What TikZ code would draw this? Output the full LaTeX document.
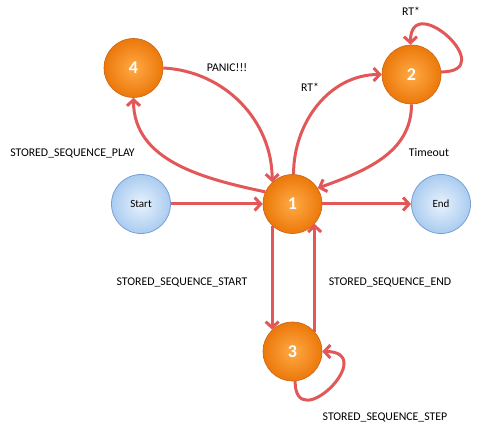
\documentclass[tikz,border=0pt]{standalone}
\usepackage{fontspec}
\setmainfont{Carlito}
\usetikzlibrary{arrows.meta,shadows}
\definecolor{edgered}{RGB}{226,88,88}
\definecolor{orlight}{RGB}{255,170,70}
\definecolor{ordark}{RGB}{236,120,10}
\definecolor{orrim}{RGB}{200,100,20}
\definecolor{blin}{RGB}{232,242,252}
\definecolor{blout}{RGB}{170,204,240}
\definecolor{blrim}{RGB}{120,160,212}
\tikzset{
  orstate/.style={circle,minimum size=59pt,inner sep=0pt,draw=orrim,line width=0.6pt,
    inner color=orlight,outer color=ordark,text=white,font=\fontsize{18}{18}\selectfont\bfseries},
  blstate/.style={circle,minimum size=59pt,inner sep=0pt,draw=blrim,line width=0.8pt,
    inner color=blin,outer color=blout,text=black,font=\fontsize{11}{11}\selectfont},
  trans/.style={draw=edgered,line width=3pt,-{Straight Barb[length=6pt,width=13pt,line width=3pt]}},
  lbl/.style={font=\fontsize{11.8}{12}\selectfont,text=black,inner sep=0pt}
}
\begin{document}
\begin{tikzpicture}[x=1pt,y=1pt]
\useasboundingbox (0,0) rectangle (480,428);
\fill[white] (0,0) rectangle (480,428);
\node[orstate] (n4) at (133.5,360) {4};
\node[orstate] (n2) at (411.5,353.5) {2};
\node[orstate] (n1) at (292.5,224) {1};
\node[orstate] (n3) at (292.5,76.5) {3};
\node[blstate] (st) at (141,224) {Start};
\node[blstate] (en) at (441,224) {End};

\node[lbl] (lpanic) at (227,360) {PANIC!!!};
\node[lbl] (lrt2) at (411,417) {RT*};
\node[lbl] (lrt1) at (310,341) {RT*};
\node[lbl] (ltime) at (429,276) {Timeout};
\node[lbl] (lplay) at (72.5,275) {STORED\_SEQUENCE\_PLAY};
\node[lbl] (lstart) at (182,146) {STORED\_SEQUENCE\_START};
\node[lbl] (lend) at (390,146) {STORED\_SEQUENCE\_END};
\node[lbl] (lstep) at (385,11) {STORED\_SEQUENCE\_STEP};

\draw[trans] (st) -- (n1);
\draw[trans] (n1) -- (en);
\draw[trans] (n1.-133) -- (n3.133);
\draw[trans] (n3.42) -- (n1.-42);
\draw[trans] (n1.156) to[out=168,in=-90] (n4.south);
\draw[trans] (n4.east) to[out=-3,in=90] (n1.133);
\draw[trans] (n1.88) to[out=90,in=180] (n2.west);
\draw[trans] (n2.south) to[out=-90,in=20] (n1.32);
\draw[trans] (n2.5) .. controls +(60,0) and +(0,56) .. (n2.92);
\draw[trans] (n3.-85) .. controls +(0,-56) and +(58,0) .. (n3.0);
\end{tikzpicture}
\end{document}
